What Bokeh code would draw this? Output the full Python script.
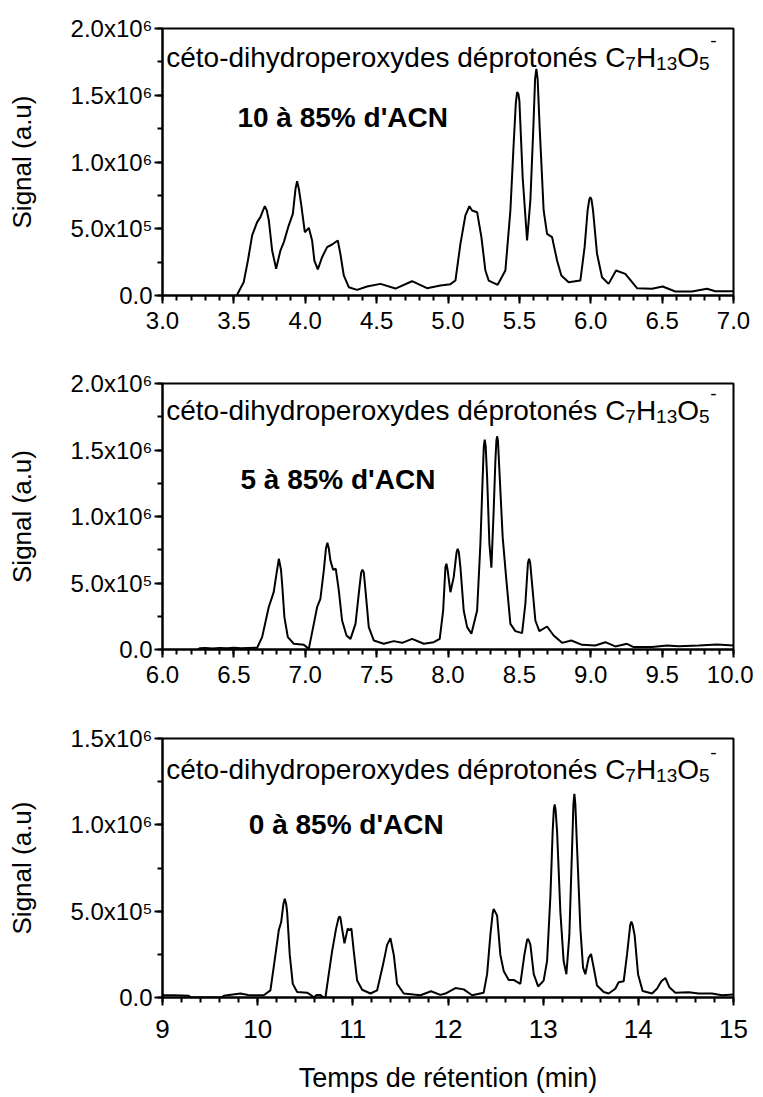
from bokeh.plotting import figure
from bokeh.models import Range1d, SingleIntervalTicker, Label, ColumnDataSource
from bokeh.layouts import column
from bokeh.embed import file_html
from bokeh.resources import INLINE

FONT = "Liberation Sans"

# ---------------- data (signal in units of 1e6 a.u.) ----------------
t_10 = [3.52, 3.569, 3.598, 3.628, 3.663, 3.686, 3.705, 3.717, 3.73, 3.745, 3.768, 3.796,
        3.826, 3.85, 3.884, 3.913, 3.932, 3.943, 3.955, 3.971, 3.997, 4.025, 4.048, 4.064,
        4.088, 4.118, 4.153, 4.188, 4.228, 4.246, 4.27, 4.305, 4.363, 4.433, 4.527, 4.632,
        4.748, 4.853, 4.947, 5.017, 5.052, 5.087, 5.122, 5.15, 5.169, 5.204, 5.234, 5.262,
        5.285, 5.348, 5.402, 5.437, 5.46, 5.475, 5.484, 5.493, 5.50, 5.523, 5.554, 5.577,
        5.598, 5.61, 5.619, 5.628, 5.642, 5.67, 5.694, 5.729, 5.764, 5.794, 5.845, 5.927,
        5.957, 5.978, 5.99, 5.997, 6.005, 6.016, 6.044, 6.079, 6.125, 6.177, 6.242, 6.324,
        6.429, 6.504, 6.592, 6.709, 6.814, 6.873, 7.0]
s_10 = [0.0, 0.10, 0.26, 0.45, 0.55, 0.587, 0.64, 0.669, 0.64, 0.562, 0.337, 0.20,
        0.337, 0.40, 0.524, 0.612, 0.80, 0.856, 0.80, 0.687, 0.474, 0.507, 0.412, 0.262,
        0.195, 0.287, 0.362, 0.382, 0.412, 0.312, 0.15, 0.062, 0.042, 0.067, 0.087, 0.052,
        0.107, 0.055, 0.075, 0.085, 0.112, 0.387, 0.60, 0.669, 0.637, 0.624, 0.437, 0.187,
        0.112, 0.08, 0.187, 0.637, 1.136, 1.44, 1.523, 1.51, 1.46, 0.886, 0.412, 0.712,
        1.261, 1.62, 1.698, 1.62, 1.261, 0.637, 0.462, 0.437, 0.262, 0.15, 0.10, 0.112,
        0.362, 0.637, 0.72, 0.736, 0.72, 0.637, 0.312, 0.137, 0.087, 0.187, 0.162, 0.055,
        0.05, 0.067, 0.03, 0.03, 0.05, 0.032, 0.032]

t_5 = [6.25, 6.26, 6.30, 6.35, 6.40, 6.453, 6.50, 6.55, 6.60, 6.663, 6.698, 6.744, 6.779,
       6.80, 6.815, 6.83, 6.838, 6.854, 6.878, 6.92, 6.99, 7.025, 7.06, 7.083, 7.106, 7.13,
       7.145, 7.155, 7.165, 7.176, 7.195, 7.214, 7.235, 7.258, 7.289, 7.317, 7.352, 7.38,
       7.392, 7.401, 7.41, 7.422, 7.445, 7.48, 7.55, 7.62, 7.679, 7.749, 7.83, 7.9, 7.942,
       7.966, 7.982, 7.989, 7.997, 8.017, 8.04, 8.06, 8.068, 8.076, 8.087, 8.11, 8.134,
       8.164, 8.204, 8.227, 8.243, 8.251, 8.257, 8.264, 8.274, 8.29, 8.304, 8.32, 8.332,
       8.339, 8.344, 8.35, 8.36, 8.383, 8.407, 8.437, 8.472, 8.519, 8.542, 8.56, 8.568,
       8.576, 8.589, 8.612, 8.64, 8.694, 8.74, 8.799, 8.864, 8.939, 9.032, 9.102, 9.172,
       9.254, 9.30, 9.429, 9.534, 9.616, 9.756, 9.884, 10.0]
s_5 = [0.0, 0.01, 0.012, 0.008, 0.012, 0.01, 0.013, 0.01, 0.012, 0.013, 0.093, 0.318, 0.431,
       0.58, 0.682, 0.60, 0.494, 0.243, 0.093, 0.043, 0.035, 0.005, 0.193, 0.318, 0.381, 0.594,
       0.76, 0.803, 0.76, 0.67, 0.60, 0.607, 0.444, 0.218, 0.105, 0.08, 0.193, 0.469,
       0.58, 0.60, 0.58, 0.444, 0.168, 0.068, 0.043, 0.063, 0.05, 0.08, 0.043, 0.055, 0.08,
       0.293, 0.62, 0.645, 0.60, 0.431, 0.544, 0.73, 0.758, 0.73, 0.619, 0.293, 0.168,
       0.118, 0.293, 0.795, 1.297, 1.53, 1.578, 1.53, 1.297, 0.795, 0.615, 1.046, 1.422,
       1.57, 1.603, 1.57, 1.347, 0.845, 0.544, 0.193, 0.138, 0.123, 0.344, 0.65, 0.682,
       0.65, 0.494, 0.218, 0.138, 0.173, 0.105, 0.05, 0.068, 0.035, 0.03, 0.055, 0.023,
       0.043, 0.018, 0.018, 0.03, 0.025, 0.03, 0.038, 0.03]

t_0 = [9.0, 9.119, 9.276, 9.30, 9.62, 9.644, 9.70, 9.819, 9.90, 9.959, 10.064, 10.134,
       10.187, 10.222, 10.247, 10.27, 10.285, 10.30, 10.31, 10.337, 10.369, 10.415, 10.52,
       10.57, 10.59, 10.62, 10.66, 10.69, 10.712, 10.747, 10.782, 10.824, 10.85, 10.859,
       10.87, 10.887, 10.912, 10.946, 10.964, 10.985, 11.01, 11.045, 11.098, 11.185, 11.255,
       11.318, 11.36, 11.395, 11.43, 11.465, 11.535, 11.71, 11.822, 11.92, 11.973, 12.078,
       12.165, 12.253, 12.375, 12.411, 12.445, 12.47, 12.48, 12.492, 12.516, 12.55, 12.585,
       12.638, 12.69, 12.76, 12.803, 12.83, 12.838, 12.85, 12.866, 12.901, 12.947, 13.005,
       13.041, 13.076, 13.1, 13.112, 13.121, 13.13, 13.146, 13.181, 13.215, 13.244, 13.275,
       13.304, 13.318, 13.328, 13.338, 13.356, 13.391, 13.419, 13.443, 13.478, 13.503,
       13.531, 13.566, 13.636, 13.688, 13.758, 13.793, 13.846, 13.881, 13.915, 13.927,
       13.94, 13.961, 13.997, 14.045, 14.144, 14.196, 14.242, 14.284, 14.326, 14.389,
       14.529, 14.634, 14.774, 14.879, 15.0]
s_0 = [0.013, 0.013, 0.01, 0.0, 0.0, 0.01, 0.015, 0.023, 0.015, 0.013, 0.013, 0.041,
       0.248, 0.39, 0.437, 0.54, 0.572, 0.54, 0.493, 0.248, 0.079, 0.032, 0.028,
       0.01, 0.0, 0.015, 0.015, 0.0, 0.0, 0.135, 0.267, 0.399, 0.46, 0.47,
       0.46, 0.399, 0.314, 0.399, 0.39, 0.399, 0.267, 0.098, 0.045, 0.023, 0.041,
       0.192, 0.305, 0.343, 0.248, 0.079, 0.023, 0.013, 0.036, 0.015, 0.023, 0.055,
       0.047, 0.013, 0.028, 0.135, 0.361, 0.49, 0.512, 0.50, 0.474, 0.248, 0.154,
       0.102, 0.102, 0.079, 0.248, 0.33, 0.339, 0.33, 0.305, 0.135, 0.064, 0.098,
       0.211, 0.587, 0.964, 1.09, 1.118, 1.09, 0.964, 0.493, 0.211, 0.135, 0.361,
       0.87, 1.12, 1.18, 1.12, 0.87, 0.399, 0.173, 0.135, 0.23, 0.252,
       0.173, 0.069, 0.032, 0.023, 0.051, 0.088, 0.094, 0.248, 0.42, 0.44,
       0.42, 0.361, 0.135, 0.038, 0.023, 0.051, 0.094, 0.113, 0.06, 0.028,
       0.03, 0.023, 0.023, 0.013, 0.018]

# tick labels
y_ticks_2 = [0, 500000, 1000000, 1500000, 2000000]
y_labels_2 = ["0.0", "5.0x10\u2075", "1.0x10\u2076", "1.5x10\u2076", "2.0x10\u2076"]
y_ticks_15 = [0, 500000, 1000000, 1500000]
y_labels_15 = ["0.0", "5.0x10\u2075", "1.0x10\u2076", "1.5x10\u2076"]
x_ticks_1 = [3.0, 3.5, 4.0, 4.5, 5.0, 5.5, 6.0, 6.5, 7.0]
x_labels_1 = ["3.0", "3.5", "4.0", "4.5", "5.0", "5.5", "6.0", "6.5", "7.0"]
x_ticks_2 = [6.0, 6.5, 7.0, 7.5, 8.0, 8.5, 9.0, 9.5, 10.0]
x_labels_2 = ["6.0", "6.5", "7.0", "7.5", "8.0", "8.5", "9.0", "9.5", "10.0"]
x_ticks_3 = [9, 10, 11, 12, 13, 14, 15]
x_labels_3 = ["9", "10", "11", "12", "13", "14", "15"]

species_main = "c\u00e9to-dihydroperoxydes d\u00e9proton\u00e9s C"
# (text, size px, x offset px, y offset px) for formula pieces after the main text
formula_parts = [("7", 19, 459.1, -6), ("H", 28, 469.7, 0), ("13", 19, 489.9, -6),
                 ("O", 28, 511.0, 0), ("5", 19, 532.8, -6), ("-", 19, 544.0, 17)]
gradients = ["10 \u00e0 85% d'ACN", "5 \u00e0 85% d'ACN", "0 \u00e0 85% d'ACN"]
y_title = "Signal (a.u)"
x_title = "Temps de r\u00e9tention (min)"


def panel(t, s, xr, ymax, xint, xticks, xlabels, yticks, ylabels, grad,
          ann_pos, grad_pos, height, top, bottom, xlabel=None):
    p = figure(width=753, height=height, output_backend="svg", toolbar_location=None,
               x_range=Range1d(*xr), y_range=Range1d(0, ymax),
               min_border_left=162, min_border_right=20,
               min_border_top=top, min_border_bottom=bottom,
               background_fill_color="white", border_fill_color="white")
    p.outline_line_color = "black"
    p.outline_line_width = 2
    p.grid.visible = False
    src = ColumnDataSource(dict(t=t, s=[v * 1e6 for v in s]))
    p.line("t", "s", source=src, line_color="black", line_width=2)

    for ax in (p.xaxis[0], p.yaxis[0]):
        ax.axis_line_width = 2
        ax.major_tick_line_width = 2
        ax.minor_tick_line_width = 2
        ax.major_tick_in = 0
        ax.minor_tick_in = 0
        ax.major_tick_out = 8
        ax.minor_tick_out = 5
        ax.major_label_text_font = FONT
        ax.major_label_text_font_size = "24px"
        ax.major_label_text_color = "black"
        ax.axis_label_text_font = FONT
        ax.axis_label_text_font_style = "normal"
        ax.axis_label_text_font_size = "26px"
        ax.axis_label_text_color = "black"

    p.xaxis.ticker = SingleIntervalTicker(interval=xint, num_minor_ticks=5)
    p.xaxis.major_label_overrides = {k: v for k, v in zip(xticks, xlabels)}
    p.xaxis.major_label_standoff = 8
    p.yaxis.ticker = SingleIntervalTicker(interval=500000, num_minor_ticks=2)
    p.yaxis.major_label_overrides = {k: v for k, v in zip(yticks, ylabels)}
    p.yaxis.major_label_standoff = 2
    p.yaxis.axis_label = y_title
    p.yaxis.axis_label_standoff = 30
    if xlabel:
        p.xaxis.axis_label = xlabel
        p.xaxis.major_label_standoff = 14
        p.xaxis.major_label_text_font_size = "26px"
        p.xaxis.axis_label_standoff = 22
        p.xaxis.axis_label_text_font_size = "27px"

    p.add_layout(Label(x=ann_pos[0], y=ann_pos[1], text=species_main, text_font=FONT,
                       text_font_size="28px", text_color="black",
                       text_baseline="alphabetic"))
    for txt, size, dx, dy in formula_parts:
        p.add_layout(Label(x=ann_pos[0], y=ann_pos[1], x_offset=dx, y_offset=dy,
                           text=txt, text_font=FONT, text_font_size=f"{size}px",
                           text_color="black", text_baseline="alphabetic"))
    p.add_layout(Label(x=grad_pos[0], y=grad_pos[1], text=grad, text_font=FONT,
                       text_font_size="28px", text_font_style="bold",
                       text_color="black", text_baseline="alphabetic"))
    return p


p1 = panel(t_10, s_10, (3, 7), 2e6, 0.5, x_ticks_1, x_labels_1, y_ticks_2, y_labels_2,
           gradients[0], (3.026, 1.785e6), (3.525, 1.331e6), 345, 28, 50)
p2 = panel(t_5, s_5, (6, 10), 2e6, 0.5, x_ticks_2, x_labels_2, y_ticks_2, y_labels_2,
           gradients[1], (6.026, 1.798e6), (6.546, 1.277e6), 354, 38, 50)
p3 = panel(t_0, s_0, (9, 15), 1.5e6, 1, x_ticks_3, x_labels_3, y_ticks_15, y_labels_15,
           gradients[2], (9.039, 1.321e6), (9.907, 1.001e6), 396, 39, 91, x_title)

layout = column(p1, p2, p3, spacing=0)
open("out.html", "w").write(file_html(layout, INLINE))
